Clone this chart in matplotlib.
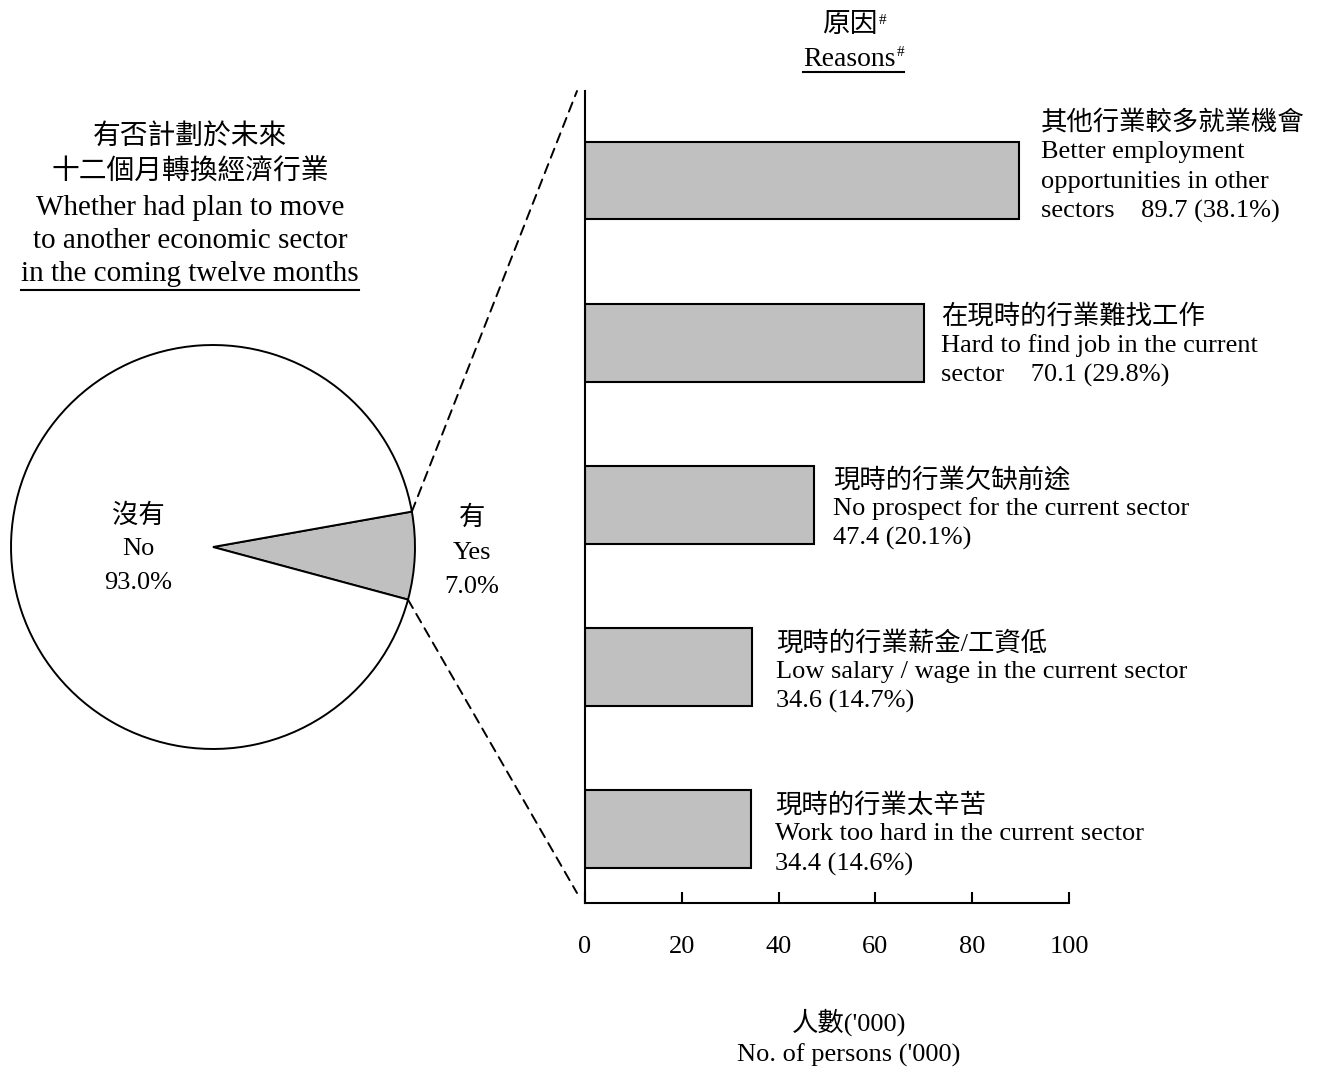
import matplotlib
matplotlib.use('Agg')
import numpy as np
import matplotlib.pyplot as plt
from matplotlib.patches import ConnectionPatch
from matplotlib.lines import Line2D

# Latin text in Times-like serif, Chinese falls back to Noto CJK
plt.rcParams['font.family'] = ['Liberation Serif', 'Noto Sans CJK TC']

W, H = 1322, 1068

# pie: plan to move sector
plan_cn = ['有', '沒有']
plan_en = ['Yes', 'No']
plan_share = [7.0, 93.0]

# bars: reasons
reason_cn = ['其他行業較多就業機會', '在現時的行業難找工作', '現時的行業欠缺前途',
             '現時的行業薪金/工資低', '現時的行業太辛苦']
reason_en = [['Better employment', 'opportunities in other', 'sectors'],
             ['Hard to find job in the current', 'sector'],
             ['No prospect for the current sector', ''],
             ['Low salary / wage in the current sector', ''],
             ['Work too hard in the current sector', '']]
reason_persons = [89.7, 70.1, 47.4, 34.6, 34.4]
reason_pct = [38.1, 29.8, 20.1, 14.7, 14.6]
x_ticks = [0, 20, 40, 60, 80, 100]

# label layout (pixels)
label_dx = [22, 17, 19, 24, 24]
label_dy0 = [-61, -29, -28, -27, -27]
line_gap = 30
cjk_shift = 3   # CJK glyphs sit a bit high with va='center'
lat_shift = 2   # same for serif lines

fig = plt.figure(figsize=(W / 100, H / 100), dpi=100)

# overlay axes in pixel coordinates for free text, drawn above the others
ov = fig.add_axes([0, 0, 1, 1])
ov.set_xlim(0, W)
ov.set_ylim(H, 0)
ov.axis('off')
ov.set_zorder(10)

# ---- pie ----
cx, cy, r = 213, 547, 204
ax_pie = fig.add_axes([(cx - r) / W, (H - cy - r) / H, 2 * r / W, 2 * r / H])
wedges, _ = ax_pie.pie(plan_share, colors=['#c0c0c0', 'white'], startangle=-15.1,
                       counterclock=True, radius=1,
                       wedgeprops=dict(edgecolor='black', linewidth=1.4))
ax_pie.set_xlim(-1.01, 1.01)
ax_pie.set_ylim(-1.01, 1.01)
ax_pie.set_aspect('auto')

ov.text(138, 513 + cjk_shift, plan_cn[1], ha='center', va='center', fontsize=19)
ov.text(138, 547 + lat_shift, plan_en[1], ha='center', va='center', fontsize=19)
ov.text(138, 581 + lat_shift, f'{plan_share[1]:.1f}%', ha='center', va='center',
        fontsize=19)
ov.text(472, 515 + cjk_shift, plan_cn[0], ha='center', va='center', fontsize=19)
ov.text(472, 551 + lat_shift, plan_en[0], ha='center', va='center', fontsize=19)
ov.text(472, 585 + lat_shift, f'{plan_share[0]:.1f}%', ha='center', va='center',
        fontsize=19)

# left title
ov.text(190, 135 + cjk_shift, '有否計劃於未來', ha='center', va='center', fontsize=20)
ov.text(190, 170 + cjk_shift, '十二個月轉換經濟行業', ha='center', va='center', fontsize=20)
ov.text(190, 206 + lat_shift, 'Whether had plan to move', ha='center', va='center',
        fontsize=21)
ov.text(190, 239 + lat_shift, 'to another economic sector', ha='center', va='center',
        fontsize=21)
t_months = ov.text(190, 272 + lat_shift, 'in the coming twelve months', ha='center',
                   va='center', fontsize=21)

# ---- bars ----
bx0, bx1, by0, by1 = 585, 1069, 91, 903
ax = fig.add_axes([bx0 / W, (H - by1) / H, (bx1 - bx0) / W, (by1 - by0) / H])
ypos = np.arange(len(reason_persons))
ax.barh(ypos, reason_persons, height=0.48, color='#c0c0c0', edgecolor='black',
        linewidth=1.5)
ax.set_xlim(0, 100)
ax.set_ylim(4.456, -0.552)
ax.set_yticks([])
ax.set_xticks(x_ticks)
ax.tick_params(axis='x', direction='in', length=8, width=1.5, pad=24, labelsize=19)
for s in ['top', 'right']:
    ax.spines[s].set_visible(False)
for s in ['left', 'bottom']:
    ax.spines[s].set_linewidth(1.5)
ax.set_facecolor('none')

for i, v in enumerate(reason_persons):
    value_txt = f'{v:.1f} ({reason_pct[i]:.1f}%)'
    en = reason_en[i]
    last = en[-1] + '    ' + value_txt if en[-1] else value_txt
    lines = [reason_cn[i]] + en[:-1] + [last]
    for j, line in enumerate(lines):
        dy = label_dy0[i] + j * line_gap + (cjk_shift if j == 0 else lat_shift)
        ax.annotate(line, xy=(v, i), xytext=(label_dx[i], -dy),
                    textcoords='offset pixels', ha='left', va='center', fontsize=19)

# zoom lines from the "Yes" slice to the bar panel
th1, th2 = np.deg2rad(wedges[0].theta1), np.deg2rad(wedges[0].theta2)
for th, yb in [(th2, 1.0), (th1, (by1 - 893) / (by1 - by0))]:
    con = ConnectionPatch(xyA=(np.cos(th), np.sin(th)), coordsA=ax_pie.transData,
                          xyB=(-8 / (bx1 - bx0), yb), coordsB=ax.transAxes,
                          linestyle=(0, (5, 3.5)), linewidth=1.4, color='black')
    fig.add_artist(con)

# right title
t_yuan = ov.text(850, 22 + cjk_shift, '原因', ha='center', va='center', fontsize=20)
ov.annotate('#', xy=(1, 1), xycoords=t_yuan, xytext=(1, -2),
            textcoords='offset pixels', ha='left', va='top', fontsize=11)
t_reasons = ov.text(849, 58 + lat_shift, 'Reasons', ha='center', va='center', fontsize=20)
sup = ov.annotate('#', xy=(1, 1), xycoords=t_reasons, xytext=(1, 1),
                  textcoords='offset pixels', ha='left', va='top', fontsize=11)

# axis title
ov.text(849, 1019 + cjk_shift, "人數('000)", ha='center', va='center', fontsize=19)
ov.text(849, 1053 + lat_shift, "No. of persons ('000)", ha='center', va='center',
        fontsize=19)

# underlines
fig.canvas.draw()
rend = fig.canvas.get_renderer()
bb = t_months.get_window_extent(rend)
ov.add_line(Line2D([bb.x0, bb.x1], [290, 290], color='black', linewidth=1.5))
bb1 = t_reasons.get_window_extent(rend)
bb2 = sup.get_window_extent(rend)
ov.add_line(Line2D([bb1.x0, bb2.x1], [72, 72], color='black', linewidth=1.5))

fig.savefig('out.png', dpi=100)
